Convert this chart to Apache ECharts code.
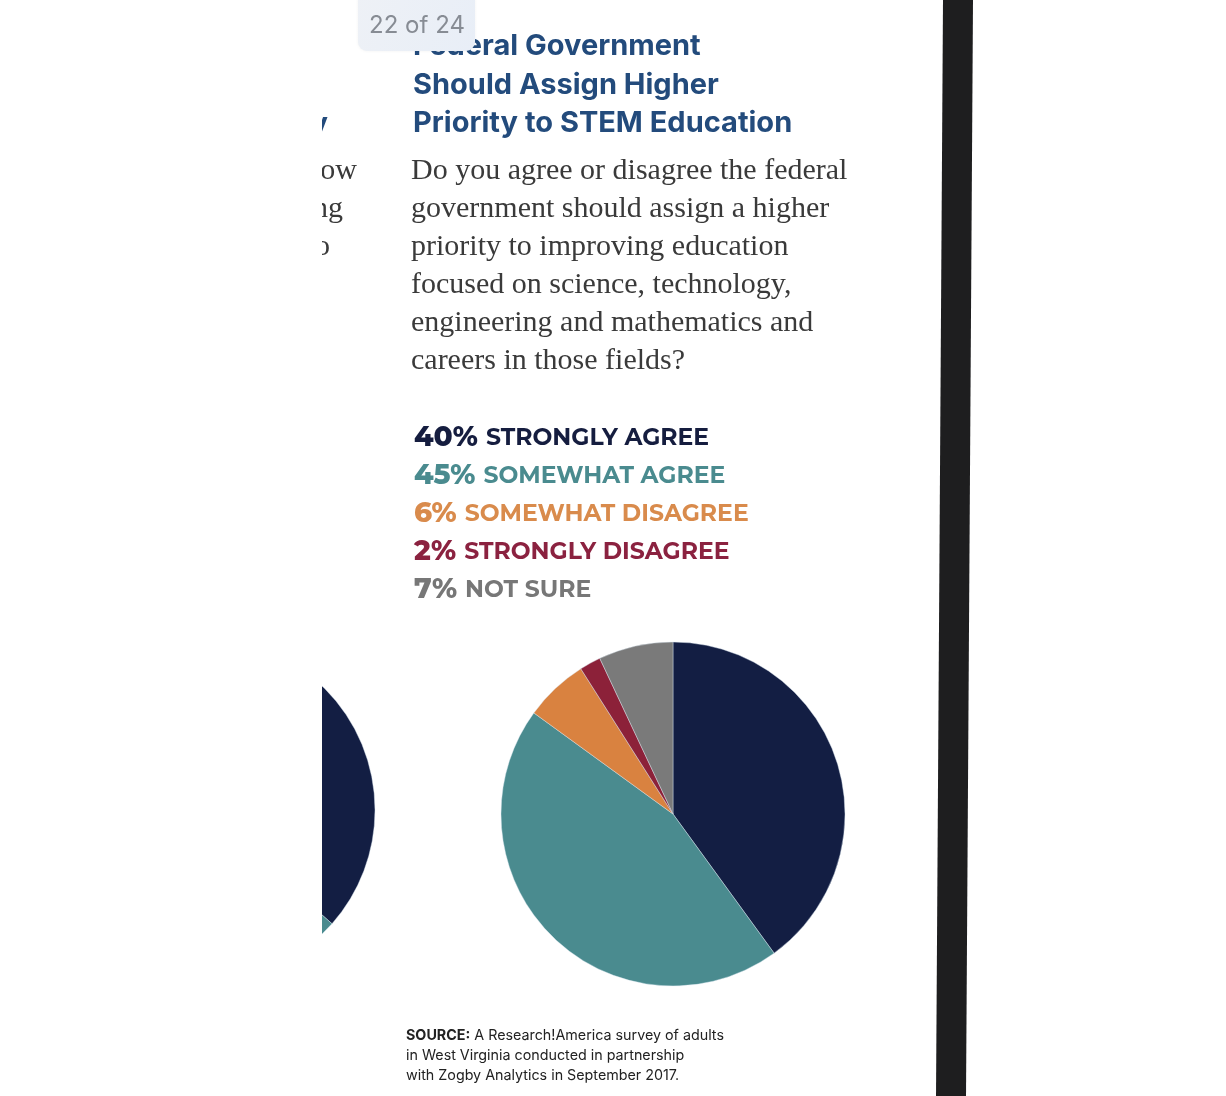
<!DOCTYPE html>
<html>
<head>
<meta charset="utf-8">
<style>
  html, body { margin: 0; padding: 0; background: #ffffff; }
  #chart { width: 1226px; height: 1096px; }
</style>
<script src="https://cdn.jsdelivr.net/npm/echarts@6/dist/echarts.min.js"></script>
</head>
<body>
<div id="chart"></div>
<script>
// ---- data ----
const categories = ['STRONGLY AGREE', 'SOMEWHAT AGREE', 'SOMEWHAT DISAGREE', 'STRONGLY DISAGREE', 'NOT SURE'];
const values = [40, 45, 6, 2, 7];
const sliceColors = ['#131e43', '#4a8b8f', '#d98240', '#8c2139', '#7a7a7a'];
const legendColors = ['#151d3f', '#4a8b8f', '#d98b4c', '#8b2240', '#777777'];
// partially visible pie of the previous page (only its first slices show)
const prevCategories = ['prev strongly agree', 'prev other'];
const prevValues = [36.5, 63.5];
const prevColors = ['#131e43', '#4a8b8f'];

const titleLines = ['Federal Government', 'Should Assign Higher', 'Priority to STEM Education'];
const questionLines = [
  'Do you agree or disagree the federal',
  'government should assign a higher',
  'priority to improving education',
  'focused on science, technology,',
  'engineering and mathematics and',
  'careers in those fields?'
];
const sourceLines = [
  ['SOURCE:', ' A Research!America survey of adults'],
  ['', 'in West Virginia conducted in partnership'],
  ['', 'with Zogby Analytics in September 2017.']
];
const prevPageFragments = [
  { t: 'y', y: 124, right: 328, kind: 'title' },
  { t: 'how', y: 171, right: 357, kind: 'serif' },
  { t: 'ing', y: 209, right: 343, kind: 'serif' },
  { t: 'to', y: 247, right: 330, kind: 'serif' }
];

const chart = echarts.init(document.getElementById('chart'), null, { renderer: 'canvas' });

const graphics = [];
const titleFont = 'Inter, Roboto, "Liberation Sans", sans-serif';
const serifFont = '"Liberation Serif", "DejaVu Serif", serif';
const legendFont = 'Montserrat, Inter, "Open Sans", sans-serif';

titleLines.forEach((t, i) => {
  graphics.push({
    type: 'text', left: 413, top: 32 + i * 38.5, z: 5,
    style: { text: t, fill: '#234b7c', font: '700 29px ' + titleFont }
  });
});
questionLines.forEach((t, i) => {
  graphics.push({
    type: 'text', left: 411, top: 156 + i * 38, z: 5,
    style: { text: t, fill: '#3a3a3a', font: '400 30px ' + serifFont }
  });
});
sourceLines.forEach((l, i) => {
  graphics.push({
    type: 'text', left: 406, top: 1029 + i * 20, z: 5,
    style: {
      text: (l[0] ? '{b|' + l[0] + '}' : '') + '{r|' + l[1] + '}',
      rich: {
        b: { font: '700 14.3px ' + titleFont, fill: '#222' },
        r: { font: '400 14.3px ' + titleFont, fill: '#222' }
      }
    }
  });
});
prevPageFragments.forEach(f => {
  graphics.push({
    type: 'text', z: 5,
    style: {
      text: f.t, x: f.right, y: f.y, align: 'right', verticalAlign: 'middle',
      fill: f.kind === 'title' ? '#234b7c' : '#3a3a3a',
      font: f.kind === 'title' ? '700 29px ' + titleFont : '400 30px ' + serifFont
    }
  });
});
// white area left of the page edge (clips previous page content)
graphics.push({
  type: 'rect', z: 100, shape: { x: 0, y: 0, width: 322, height: 1096 },
  style: { fill: '#ffffff' }
});
// black device edge on right
graphics.push({
  type: 'polygon', z: 100,
  shape: { points: [[943, 0], [973, 0], [966, 1096], [936, 1096]] },
  style: { fill: '#1e1e1f' }
});
// page badge
graphics.push({
  type: 'rect', z: 110, shape: { x: 358, y: -10, width: 117, height: 61, r: 9 },
  style: {
    fill: new echarts.graphic.LinearGradient(0, 0, 1, 1, [
      { offset: 0, color: '#eef1f6' }, { offset: 1, color: '#e8eef7' }
    ]),
    shadowBlur: 3, shadowColor: 'rgba(0,0,0,0.05)'
  }
});
graphics.push({
  type: 'text', z: 111,
  style: { text: '22 of 24', x: 417, y: 26, align: 'center', verticalAlign: 'middle',
    fill: '#878c94', font: '400 24px ' + titleFont }
});

const option = {
  backgroundColor: '#ffffff',
  animation: false,
  legend: {
    orient: 'vertical', left: 409, top: 419,
    icon: 'none', itemWidth: 0, itemHeight: 0, itemGap: 0,
    padding: 0,
    selectedMode: false,
    data: categories.map((c, i) => ({ name: c, textStyle: { color: legendColors[i] } })),
    formatter: name => {
      const i = categories.indexOf(name);
      return '{p|' + values[i] + '%}{s| }{l|' + name + '}';
    },
    textStyle: {
      lineHeight: 38,
      rich: {
        p: { fontFamily: legendFont, fontWeight: 800, fontSize: 28, lineHeight: 38 },
        s: { fontSize: 10, width: 8, lineHeight: 38 },
        l: { fontFamily: legendFont, fontWeight: 700, fontSize: 23.5, lineHeight: 38 }
      }
    }
  },
  graphic: graphics,
  series: [
    {
      type: 'pie', name: 'main',
      center: [673, 814], radius: 172, startAngle: 90, clockwise: true,
      label: { show: false }, labelLine: { show: false },
      emphasis: { disabled: true },
      itemStyle: { borderColor: 'rgba(220,230,240,0.7)', borderWidth: 0.6 },
      data: categories.map((c, i) => ({ name: c, value: values[i], itemStyle: { color: sliceColors[i] } }))
    },
    {
      type: 'pie', name: 'prev',
      center: [203, 810], radius: 172, startAngle: 90, clockwise: true,
      label: { show: false }, labelLine: { show: false },
      emphasis: { disabled: true },
      itemStyle: { borderColor: 'rgba(220,230,240,0.7)', borderWidth: 0.6 },
      data: prevCategories.map((c, i) => ({ name: c, value: prevValues[i], itemStyle: { color: prevColors[i] } }))
    }
  ]
};
chart.setOption(option);
</script>
</body>
</html>
